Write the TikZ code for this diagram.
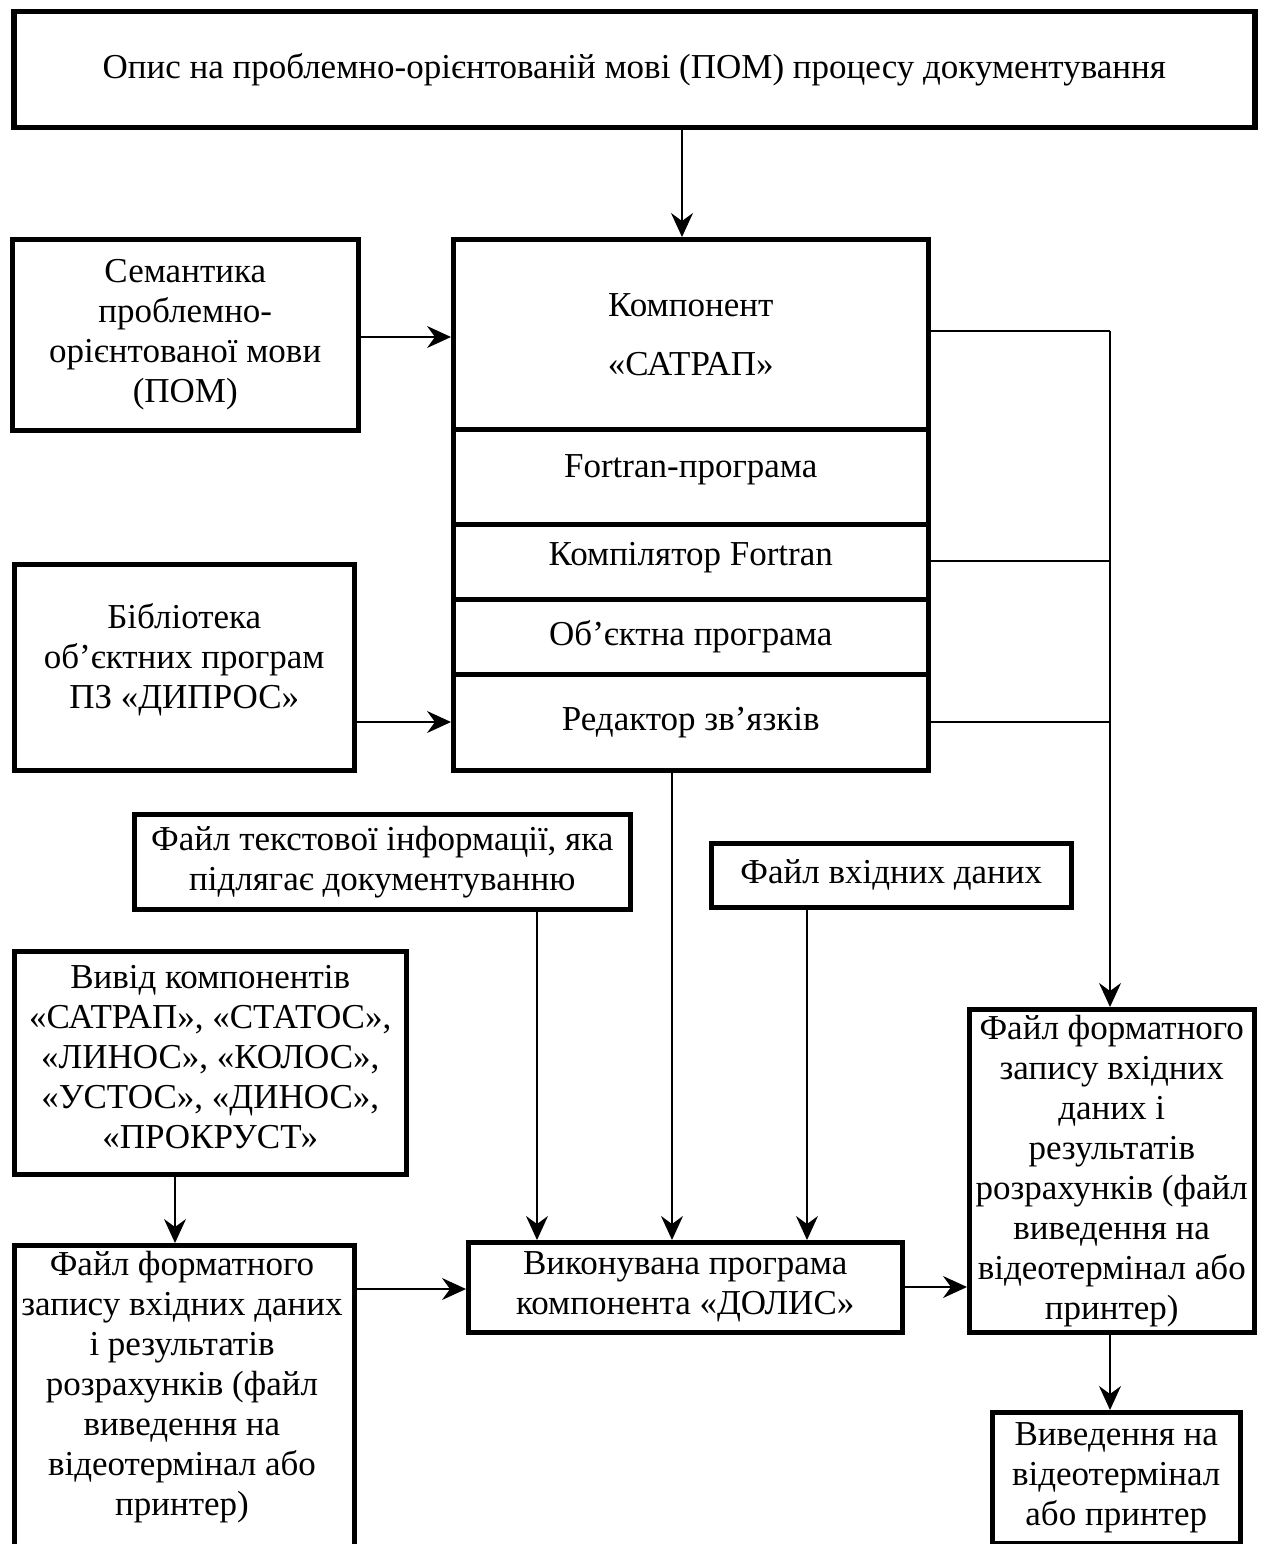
\documentclass[tikz,border=0pt]{standalone}
\usepackage{fontspec}
\setmainfont{Liberation Serif}
\usetikzlibrary{arrows.meta}
\begin{document}
\begin{tikzpicture}[x=1pt,y=-1pt,
  box/.style={draw=black, line width=4.5pt, rectangle, inner sep=0pt, anchor=north west, align=center},
  txt/.style={align=center, inner sep=0pt},
  conn/.style={draw=black, line width=1.6pt},
  arr/.style={conn, -{Stealth[length=24pt, width=22pt, inset=8pt]}},
  every node/.style={font=\fontsize{35}{40}\selectfont}
]
\useasboundingbox (0,0) rectangle (1263,1544);

% top
\node[box, line width=5.5pt, minimum width=1241pt, minimum height=116pt] (top) at (11,9)
  {Опис на проблемно-орієнтованій мові (ПОМ) процесу документування};

% left boxes
\node[box, minimum width=346pt, minimum height=191pt] (sem) at (10,237)
  {Семантика\\ проблемно-\\ орієнтованої мови\\ (ПОМ)};
\node[box, minimum width=340pt, minimum height=206pt] (bib) at (12,562) {};
\node[txt] (bibt) at ([yshift=8pt]bib.center) {Бібліотека\\ об’єктних програм\\ ПЗ «ДИПРОС»};

% main stack
\node[box, minimum width=475pt, minimum height=190pt] (satrap) at (451,237) {};
\node[txt, font=\fontsize{35}{59}\selectfont] (satrapt) at (satrap.center) {Компонент\\ «САТРАП»};
\node[box, minimum width=475pt, minimum height=95pt] (fortran) at (451,427) {};
\node[txt] (fortrant) at ([yshift=7pt]fortran.center) {Fortran-програма};
\node[box, minimum width=475pt, minimum height=75pt] (comp) at (451,522) {};
\node[txt] (compt) at ([yshift=4pt]comp.center) {Компілятор Fortran};
\node[box, minimum width=475pt, minimum height=75pt] (obj) at (451,597) {Об’єктна програма};
\node[box, minimum width=475pt, minimum height=96pt] (red) at (451,672) {Редактор зв’язків};

% file boxes
\node[box, minimum width=496pt, minimum height=95pt] (ftext) at (132,812)
  {Файл текстової інформації, яка\\ підлягає документуванню};
\node[box, minimum width=360pt, minimum height=64pt] (fin) at (709,841) {Файл вхідних даних};

\node[box, minimum width=392pt, minimum height=223pt] (vyvid) at (12,949) {};
\node[txt] (vyvidt) at ([yshift=6pt]vyvid.center)
  {Вивід компонентів\\ «САТРАП», «СТАТОС»,\\ «ЛИНОС», «КОЛОС»,\\ «УСТОС», «ДИНОС»,\\ «ПРОКРУСТ»};

\node[box, minimum width=340pt, minimum height=360pt] (lbox) at (12,1243) {};
\node[txt] (lboxt) at (182,1387)
  {Файл форматного\\ запису вхідних даних\\ і результатів\\ розрахунків (файл\\ виведення на\\ відеотермінал або\\ принтер)};

\node[box, minimum width=434pt, minimum height=90pt] (exec) at (466,1240)
  {Виконувана програма\\ компонента «ДОЛИС»};

\node[box, minimum width=285pt, minimum height=323pt] (rbox) at (967,1007)
  {Файл форматного\\ запису вхідних\\ даних і\\ результатів\\ розрахунків (файл\\ виведення на\\ відеотермінал або\\ принтер)};

\node[box, minimum width=248pt, minimum height=131pt] (out) at (990,1410)
  {Виведення на\\ відеотермінал\\ або принтер};

% helper coordinates
\coordinate (xa) at (682,0);
\coordinate (xr) at (1110,0);
\coordinate (xt) at (537,0);
\coordinate (xe) at (672,0);
\coordinate (xf) at (807,0);
\coordinate (xv) at (175,0);
\coordinate (yb) at (0,722);
\coordinate (ys) at (0,331);

% connectors
\draw[arr] (top.south -| xa) -- (satrap.north -| xa);
\draw[arr] (sem.east |- 0,337) -- (satrap.west |- 0,337);
\draw[arr] (bib.east |- yb) -- (red.west |- yb);

\draw[conn, line width=2.6pt] (satrap.east |- ys) -- (xr |- ys);
\draw[conn, line width=2.6pt] (comp.east |- 0,561) -- (xr |- 0,561);
\draw[conn, line width=2.6pt] (red.east |- yb) -- (xr |- yb);
\draw[arr] (xr |- ys) -- (rbox.north -| xr);

\draw[arr] (ftext.south -| xt) -- (exec.north -| xt);
\draw[arr] (red.south -| xe) -- (exec.north -| xe);
\draw[arr] (fin.south -| xf) -- (exec.north -| xf);

\draw[arr] (vyvid.south -| xv) -- (lbox.north -| xv);
\draw[arr] (lbox.east |- 0,1289) -- (exec.west |- 0,1289);
\draw[arr] (exec.east |- 0,1287) -- (rbox.west |- 0,1287);
\draw[arr] (rbox.south -| xr) -- (out.north -| xr);
\end{tikzpicture}
\end{document}
